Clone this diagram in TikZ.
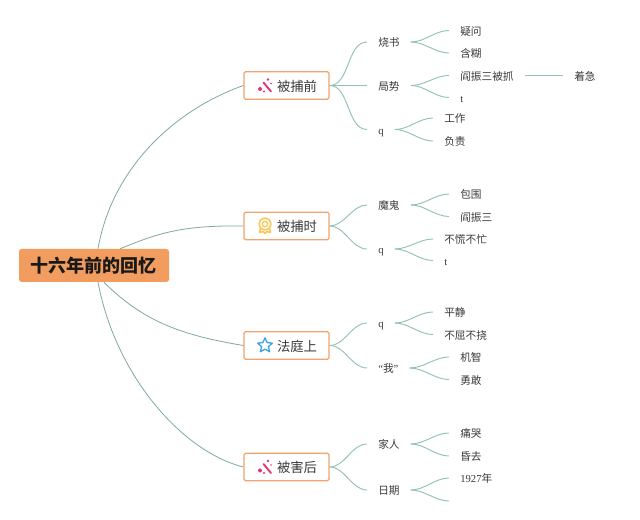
\documentclass[tikz,border=0pt]{standalone}
\usepackage{fontspec}
\usetikzlibrary{shapes.geometric}
\setmainfont{Noto Sans CJK SC}
\newfontfamily\latinface{Liberation Serif}
\newcommand{\lat}[1]{{\latinface #1}}
\definecolor{linkc}{HTML}{93C2B4}
\definecolor{rootlink}{HTML}{7FA9A2}
\definecolor{boxedge}{HTML}{F2A46C}
\definecolor{rootfill}{HTML}{F29D5F}
\definecolor{inkc}{HTML}{3A3A3A}
\definecolor{wandc}{HTML}{E2366F}
\definecolor{medalc}{HTML}{F8C95A}
\definecolor{starc}{HTML}{3FA2E4}
\tikzset{
  x=0.75pt,y=-0.75pt,
  label/.style={anchor=west,inner xsep=8.25pt,inner ysep=0pt,text height=9pt,text depth=2pt,text=inkc,font=\fontsize{8}{10}\selectfont},
  topic/.style={draw=boxedge,line width=0.95pt,rounded corners=1pt,fill=white,minimum width=63.75pt,minimum height=20.5pt,inner sep=0pt,text height=10.8pt,text depth=2pt,text=inkc,font=\fontsize{10}{12}\selectfont},
  rootbox/.style={fill=rootfill,rounded corners=2pt,minimum width=112.5pt,minimum height=24.75pt,inner sep=0pt,text height=14pt,text depth=3pt,text=black!90,font=\fontsize{13.5}{16}\selectfont\bfseries},
  link/.style={draw=linkc,line width=0.7pt},
  rlink/.style={draw=rootlink,line width=0.6pt},
  branch/.style={link,out=0,in=180,looseness=0.9}
}
\begin{document}
\begin{tikzpicture}
\useasboundingbox (0,0) rectangle (640,520);
\fill[white] (0,0) rectangle (640,520);

% root and topics
\node[rootbox] (root) at (94,265.5) {十六年前的回忆};
\node[topic] (t1) at (286.5,85.5) {\hspace{15.75pt}被捕前};
\node[topic] (t2) at (286.5,226) {\hspace{15.75pt}被捕时};
\node[topic] (t3) at (286.5,345.5) {\hspace{15.75pt}法庭上};
\node[topic] (t4) at (286.5,467) {\hspace{15.75pt}被害后};

% second level
\node[label] (a1) at (367,42) {烧书};
\node[label] (a2) at (367,85.5) {局势};
\node[label] (a3) at (367,129.5) {\lat{q}};
\node[label] (b1) at (367,205) {魔鬼};
\node[label] (b2) at (367,249) {\lat{q}};
\node[label] (c1) at (367,323) {\lat{q}};
\node[label] (c2) at (367,368) {\lat{“}我\lat{”}};
\node[label] (d1) at (367,444) {家人};
\node[label] (d2) at (367,490) {日期};

% leaves
\node[label] (a11) at (449,30.5) {疑问};
\node[label] (a12) at (449,53) {含糊};
\node[label] (a21) at (449,75.5) {阎振三被抓};
\node[label] (a211) at (563,75.5) {着急};
\node[label] (a22) at (449,97.5) {\lat{t}};
\node[label] (a31) at (433,118) {工作};
\node[label] (a32) at (433,141) {负责};
\node[label] (b11) at (449,194) {包围};
\node[label] (b12) at (449,216.5) {阎振三};
\node[label] (b21) at (433,239) {不慌不忙};
\node[label] (b22) at (433,260.5) {\lat{t}};
\node[label] (c11) at (433,312) {平静};
\node[label] (c12) at (433,334.5) {不屈不挠};
\node[label] (c21) at (449,357) {机智};
\node[label] (c22) at (449,379.5) {勇敢};
\node[label] (d11) at (449,433) {痛哭};
\node[label] (d12) at (449,456) {昏去};
\node[label] (d21) at (449,478) {\lat{1927}年};
\coordinate (d22) at (449,501);

% root connectors
\draw[rlink] ([xshift=3pt]root.north) .. controls +(14,-80) and +(-70,25) .. (t1.west);
\draw[rlink] ([xshift=19.5pt]root.north) .. controls +(35,-14) and +(-65,-1) .. (t2.west);
\draw[rlink] ([xshift=7.5pt]root.south) .. controls +(40,40) and +(-60,-10) .. (t3.west);
\draw[rlink] ([xshift=3pt]root.south) .. controls +(18,95) and +(-60,-15) .. (t4.west);

% topic connectors
\foreach \p/\q in {t1/a1,t1/a2,t1/a3,t2/b1,t2/b2,t3/c1,t3/c2,t4/d1,t4/d2}{
  \draw[branch] (\p.east) to (\q.west);
}
% second-level connectors
\foreach \p/\q in {a1/a11,a1/a12,a2/a21,a2/a22,a3/a31,a3/a32,b1/b11,b1/b12,b2/b21,b2/b22,c1/c11,c1/c12,c2/c21,c2/c22,d1/d11,d1/d12,d2/d21}{
  \draw[branch] (\p.east) to (\q.west);
}
\draw[branch] (d2.east) to (d22);
\draw[link] (a21.east) -- (a211.west);

% wand icons
\foreach \n/\cy in {t1/85.5,t4/467}{
  \begin{scope}[shift={(265,\cy)}]
    \draw[wandc,line width=1.4pt,line cap=round] (-1.5,-3) -- (6,6);
    \fill[wandc] (3,-6) circle (1.4);
    \fill[wandc] (-5,3.5) circle (2);
    \fill[wandc] (-1,6) circle (1.2);
    \fill[wandc] (6,-2) circle (0.8);
  \end{scope}
}
% medal icon
\begin{scope}[shift={(265,226)}]
  \draw[medalc,line width=1.2pt] (0,-2) circle (5.8);
  \draw[medalc,line width=1pt] (0,-2) circle (2.8);
  \draw[medalc,line width=1.2pt,line join=round] (-4.5,2) -- (-5.5,6.5) -- (-2,5.5) -- (0,7.5) -- (2,5.5) -- (5.5,6.5) -- (4.5,2);
\end{scope}
% star icon
\node[star,star points=5,star point ratio=2.1,draw=starc,line width=1pt,line join=round,inner sep=0pt,minimum size=11.5pt] (staricon) at (265,345.5) {};
\end{tikzpicture}
\end{document}
